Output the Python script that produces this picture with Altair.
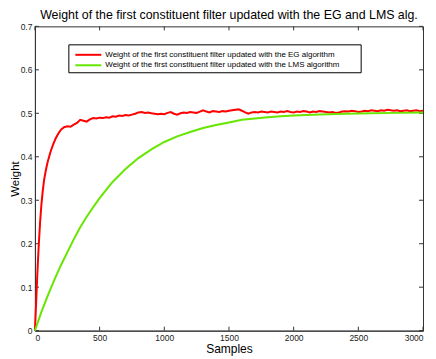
import altair as alt
import pandas as pd

# ---- data ----
eg_x = [0, 10, 20, 30, 40, 50, 60, 70, 80, 90, 100, 120, 140, 160, 180, 200, 225, 250, 275, 300,
        325, 350, 375, 400, 425, 450, 475, 500, 525, 550, 575, 600, 625, 650, 675, 700, 725, 750,
        775, 800, 825, 850, 875, 900, 925, 950, 975, 1000, 1025, 1050, 1075, 1100, 1125, 1150,
        1175, 1200, 1225, 1250, 1275, 1300, 1325, 1350, 1375, 1400, 1425, 1450, 1475, 1500, 1525,
        1550, 1575, 1600, 1625, 1650, 1675, 1700, 1725, 1750, 1775, 1800, 1825, 1850, 1875, 1900,
        1925, 1950, 1975, 2000, 2025, 2050, 2075, 2100, 2125, 2150, 2175, 2200, 2225, 2250, 2275,
        2300, 2325, 2350, 2375, 2400, 2425, 2450, 2475, 2500, 2525, 2550, 2575, 2600, 2625, 2650,
        2675, 2700, 2725, 2750, 2775, 2800, 2825, 2850, 2875, 2900, 2925, 2950, 2975, 3000]
eg_w = [0.0, 0.07, 0.14, 0.2, 0.25, 0.29, 0.32, 0.345, 0.362, 0.377, 0.39, 0.411, 0.428, 0.442,
        0.453, 0.462, 0.468, 0.47, 0.469, 0.474, 0.478, 0.485, 0.483, 0.481, 0.486, 0.489, 0.488,
        0.49, 0.489, 0.491, 0.49, 0.493, 0.492, 0.495, 0.494, 0.496, 0.495, 0.497, 0.499, 0.502,
        0.503, 0.501, 0.502, 0.5, 0.499, 0.498, 0.499, 0.498, 0.501, 0.503, 0.499, 0.497, 0.5,
        0.502, 0.501, 0.503, 0.502, 0.501, 0.504, 0.507, 0.504, 0.502, 0.505, 0.504, 0.503, 0.505,
        0.504, 0.506, 0.507, 0.508, 0.509, 0.506, 0.502, 0.499, 0.502, 0.503, 0.502, 0.504, 0.503,
        0.502, 0.504, 0.503, 0.502, 0.504, 0.503, 0.505, 0.503, 0.502, 0.504, 0.503, 0.505, 0.504,
        0.502, 0.504, 0.503, 0.505, 0.504, 0.503, 0.502, 0.503, 0.501, 0.502, 0.504, 0.505, 0.504,
        0.506, 0.505, 0.503, 0.504, 0.506, 0.505, 0.507, 0.506, 0.505, 0.507, 0.506, 0.508, 0.507,
        0.506, 0.507, 0.505, 0.506, 0.507, 0.505, 0.506, 0.507, 0.505, 0.506]

lms_x = [0, 25, 50, 75, 100, 150, 200, 250, 300, 350, 400, 450, 500, 600, 700, 800, 900, 1000,
         1100, 1200, 1300, 1400, 1500, 1600, 1700, 1800, 1900, 2000, 2200, 2400, 2600, 2800, 3000]
lms_w = [0.0, 0.022, 0.043, 0.062, 0.081, 0.117, 0.15, 0.18, 0.21, 0.238, 0.262, 0.284, 0.305,
         0.342, 0.372, 0.397, 0.417, 0.434, 0.447, 0.457, 0.466, 0.473, 0.479, 0.485, 0.488,
         0.491, 0.493, 0.495, 0.497, 0.499, 0.5, 0.501, 0.502]

series_names = ["Weight of the first constituent filter updated with the EG algorithm",
                "Weight of the first constituent filter updated with the LMS algorithm"]
series_colors = ["#ff0000", "#66e600"]

x_ticks = [0, 500, 1000, 1500, 2000, 2500, 3000]
y_ticks = [0, 0.1, 0.2, 0.3, 0.4, 0.5, 0.6, 0.7]

W, H = 389, 305
TL = 4
FONT = "Liberation Sans"

df = pd.concat([
    pd.DataFrame({"Samples": eg_x, "Weight": eg_w, "series": series_names[0], "ord": range(len(eg_x))}),
    pd.DataFrame({"Samples": lms_x, "Weight": lms_w, "series": series_names[1], "ord": range(len(lms_x))}),
])

xs = alt.Scale(domain=[0, 3000], nice=False, zero=False)
ys = alt.Scale(domain=[0, 0.7], nice=False, zero=False)
cs = alt.Scale(domain=series_names, range=series_colors)

lines = alt.Chart(df).mark_line(strokeWidth=2).encode(
    x=alt.X("Samples:Q", scale=xs, title="Samples",
            axis=alt.Axis(values=x_ticks, format="d", tickSize=0, labelPadding=3, titlePadding=1)),
    y=alt.Y("Weight:Q", scale=ys, title="Weight",
            axis=alt.Axis(values=y_ticks, format=".1~f", tickSize=0, labelPadding=3,
                          titleX=-14, titleY=H / 2, titleFontSize=11.5)),
    color=alt.Color("series:N", scale=cs, legend=None),
    order="ord:Q",
)

# ticks pointing inward on all four sides
xt = pd.DataFrame({"v": x_ticks})
yt = pd.DataFrame({"v": y_ticks})
tick_col = "#333"
xb = alt.Chart(xt).mark_rule(color=tick_col, strokeWidth=1).encode(
    x=alt.X("v:Q", scale=xs), y=alt.value(H), y2=alt.value(H - TL))
xtop = alt.Chart(xt).mark_rule(color=tick_col, strokeWidth=1).encode(
    x=alt.X("v:Q", scale=xs), y=alt.value(0), y2=alt.value(TL))
yl = alt.Chart(yt).mark_rule(color=tick_col, strokeWidth=1).encode(
    y=alt.Y("v:Q", scale=ys), x=alt.value(0), x2=alt.value(TL))
yr = alt.Chart(yt).mark_rule(color=tick_col, strokeWidth=1).encode(
    y=alt.Y("v:Q", scale=ys), x=alt.value(W - TL), x2=alt.value(W))

# legend box drawn inside the plot
leg_df = pd.DataFrame({"series": series_names, "row": [0, 1]})
box = alt.Chart(leg_df).transform_filter("datum.row == 0").mark_rect(
    fill="white", stroke="#000", strokeWidth=1).encode(
    x=alt.value(34), x2=alt.value(327), y=alt.value(18.5), y2=alt.value(46.5))
leg_items = []
for i, yy in enumerate([28.5, 39.0]):
    sub = leg_df[leg_df.row == i]
    leg_items.append(alt.Chart(sub).mark_rule(strokeWidth=2).encode(
        x=alt.value(40.5), x2=alt.value(66.5), y=alt.value(yy),
        color=alt.Color("series:N", scale=cs, legend=None)))
    leg_items.append(alt.Chart(sub).mark_text(
        align="left", baseline="middle", fontSize=8, font=FONT, color="#000").encode(
        x=alt.value(70.5), y=alt.value(yy), text="series:N"))

chart = alt.layer(xb, xtop, yl, yr, lines, box, *leg_items).properties(
    width=W, height=H,
    title=alt.Title("Weight of the first constituent filter updated with the EG and LMS alg.",
                    fontSize=12.4, font=FONT, fontWeight="normal", color="#000", offset=1),
    autosize=alt.AutoSizeParams(type="none"),
    padding={"left": 27, "top": 18, "right": 5, "bottom": 28},
).configure_view(stroke="#333", strokeWidth=1).configure_axis(
    domainColor="#333", labelFont=FONT, labelFontSize=8.5, labelColor="#222",
    titleFont=FONT, titleFontSize=12, titleFontWeight="normal", titleColor="#000",
    grid=False,
)

chart.save("out.html", embed_options={"renderer": "svg", "actions": False})
